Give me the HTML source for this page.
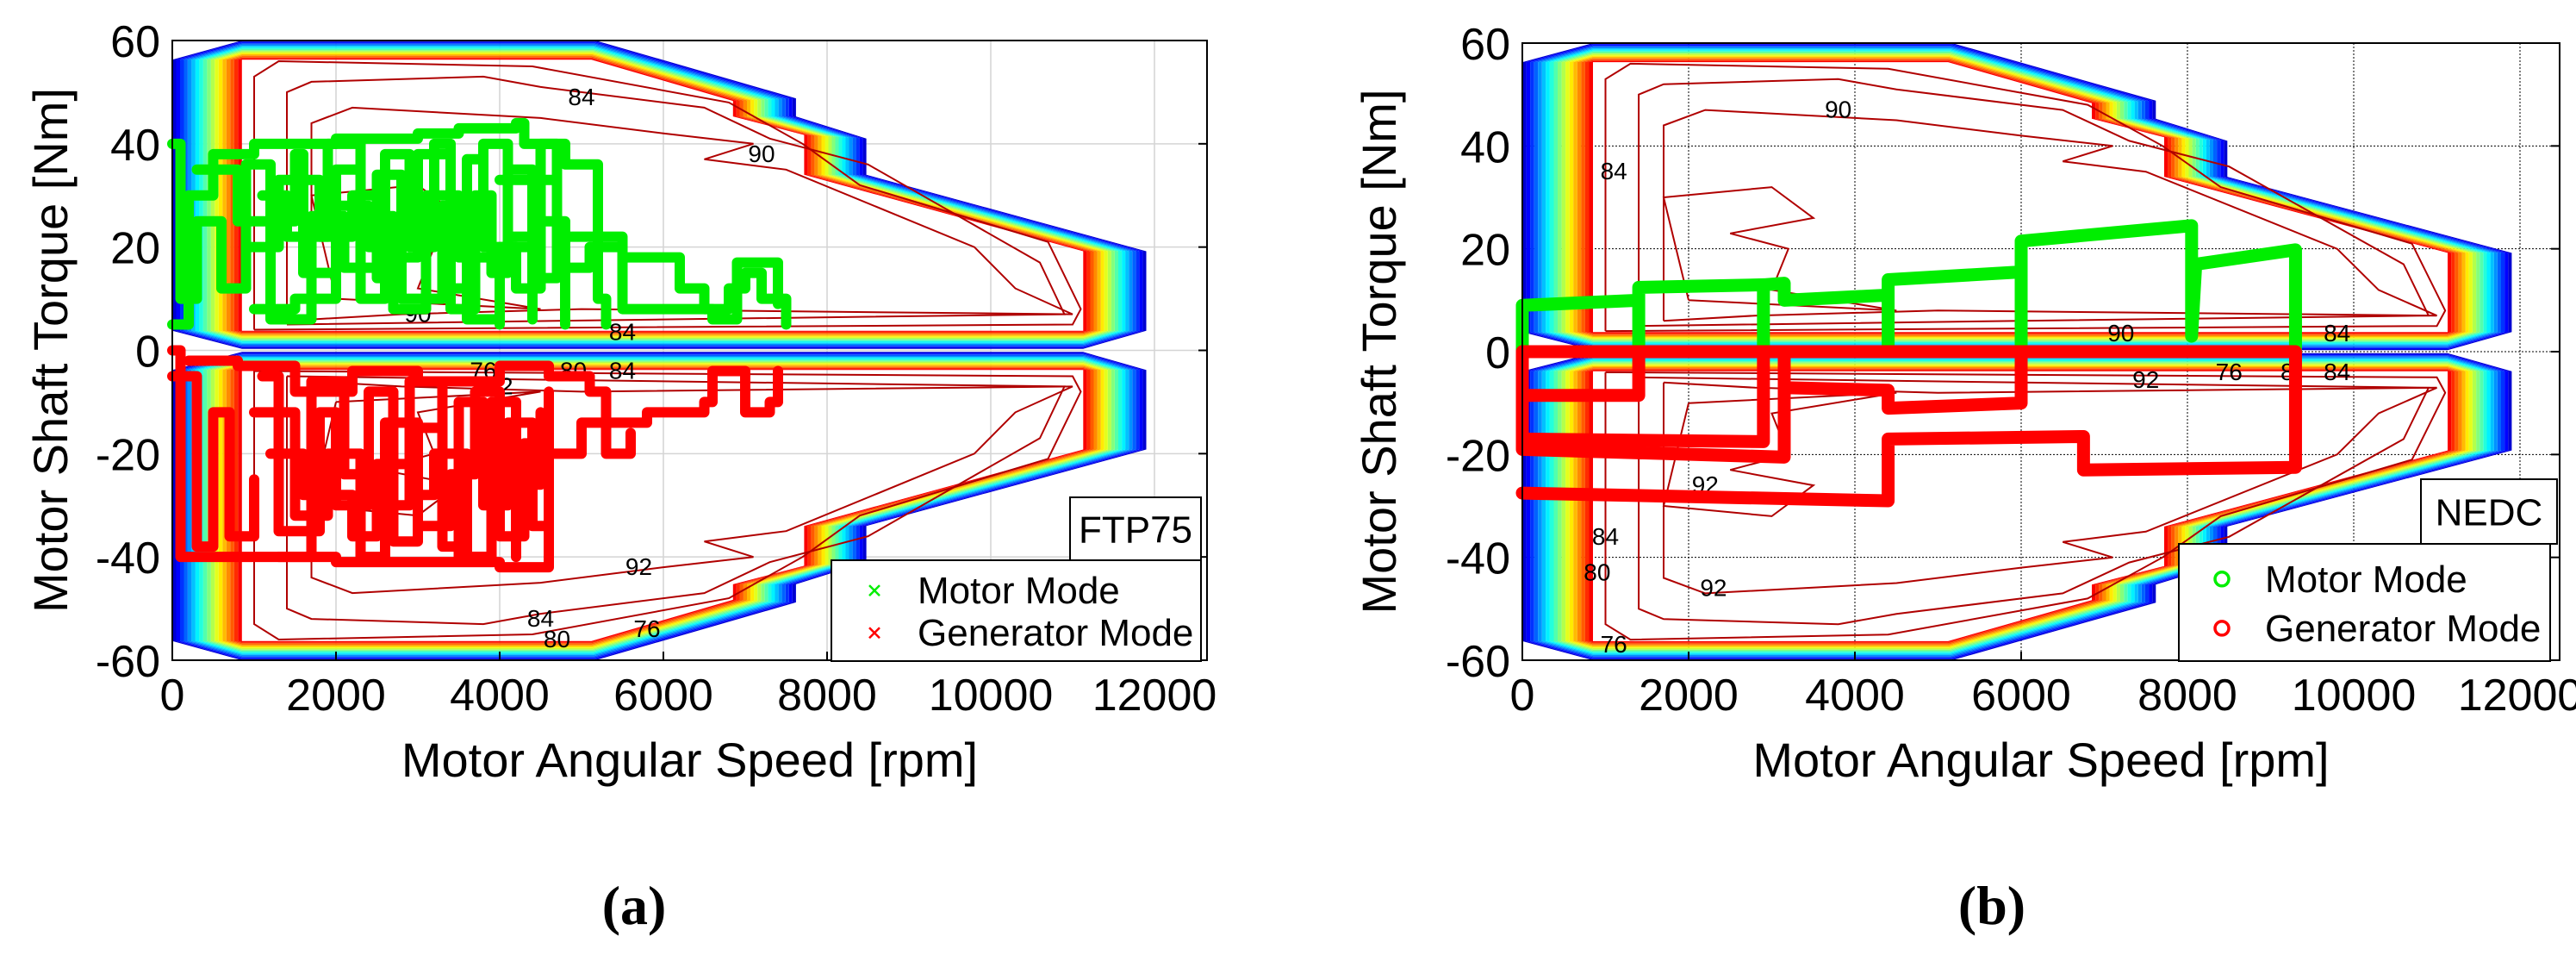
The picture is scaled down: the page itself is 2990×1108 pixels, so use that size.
<!DOCTYPE html>
<html><head><meta charset="utf-8"><style>
html,body{margin:0;padding:0;background:#fff;}
svg{display:block;}
text{font-family:"Liberation Sans",Arial,sans-serif;}
</style></head><body>
<svg id="fig" width="2990" height="1108" viewBox="0 0 2990 1108" xmlns="http://www.w3.org/2000/svg">
<text x="736" y="1072" font-weight="bold" font-size="64" text-anchor="middle" style="font-family:'Liberation Serif',serif">(a)</text>
<text x="2312" y="1072" font-weight="bold" font-size="64" text-anchor="middle" style="font-family:'Liberation Serif',serif">(b)</text>
</svg>
<script>
// ---- data ----
const xTicks = [0,2000,4000,6000,8000,10000,12000];
const yTicks = [60,40,20,0,-20,-40,-60];
// efficiency-map envelope (upper half), outer and inner boundaries [rpm, Nm]
const envOuter = [[0,56.3],[850,60],[5170,60],[7620,48.8],[7620,45.3],[8480,41],[8480,34],[11900,19.2],[11900,3.8],[11130,0.3],[850,0.3],[0,3.8]];
const envInner = [[850,56.3],[850,56.3],[5120,56.3],[6850,48.3],[6850,45.3],[7720,41.7],[7720,34],[11130,19.2],[11130,3.8],[11130,3.8],[850,3.8],[850,3.8]];
// contour loops (upper half)
const contourA = [[1000,4],[1000,53],[1300,56],[4400,55],[6800,48],[7700,40],[8400,32],[10700,21],[11100,8],[11000,5],[1000,4]];
const contourB = [[1400,5],[1400,50],[1700,52],[3800,53],[4500,51],[6500,47],[7300,41],[8500,36],[10600,17],[10900,7],[6000,6],[1400,5]];
const contourC = [[1700,6],[1700,44],[2200,47],[4500,45],[6000,42],[7100,40],[6500,37],[7500,35],[9800,20],[10300,12],[11000,7],[5000,8],[2800,7],[1700,6]];
const contourD = [[2000,10],[1700,30],[3000,32],[3500,26],[2500,23],[3200,20],[3000,12],[4500,8],[2000,10]];
const labelsA = [[5000,49,'84'],[7200,38,'90'],[3000,7,'90'],[5500,3.5,'84'],[3800,-4,'76'],[4000,-7,'92'],[4900,-4,'80'],[5500,-4,'84'],[2500,-26,'92'],[5700,-42,'92'],[4500,-52,'84'],[4700,-56,'80'],[5800,-54,'76']];
const labelsB = [[3800,47,'90'],[1100,35,'84'],[7200,3.5,'90'],[9800,3.5,'84'],[7500,-5.5,'92'],[8500,-4,'76'],[9200,-4,'8'],[9800,-4,'84'],[2200,-26,'92'],[1000,-36,'84'],[900,-43,'80'],[2300,-46,'92'],[1100,-57,'76']];
// FTP75 operating points
const ftpMotor1 = [[0,5],[200,30],[500,38],[1000,40],[2000,41],[3000,42],[3500,43],[4200,44],[4300,40],[4800,36],[5200,28],[5200,10],[5300,5]];
const ftpMotor2 = [[300,35],[800,25],[1500,38],[1600,15],[2000,35],[2300,10],[2600,38],[2900,20],[3200,40],[3400,8],[3700,30],[3900,15],[4100,35],[4400,6]];
const ftpMotor3 = [[4000,33],[4600,33],[4700,22],[5300,22],[5500,18],[6000,18],[6200,12],[6500,8],[6800,12],[7000,15],[7200,10],[7500,5]];
const ftpMotor4 = [[900,20],[1300,33],[1800,22],[2200,30],[2500,14],[2800,33],[3000,25],[3300,12],[3600,37],[3800,20],[4200,12],[4500,25],[4800,5]];
const ftpMotor5 = [[1000,8],[1500,10],[2000,28],[2400,20],[2700,8],[3100,30],[3500,18],[4000,5]];
const ftpMotor6 = [[0,40],[100,10],[300,25],[600,12],[900,36],[1200,6],[1700,26],[2100,16],[2500,34],[2800,10],[3300,28],[3600,6],[4000,20],[4400,14],[4700,30]];
const ftpMotor7 = [[1100,30],[1400,22],[1900,40],[2300,26],[2700,18],[3000,38],[3400,24],[3800,40],[4100,22],[4500,40],[4700,16],[5100,20],[5500,8],[6600,6],[6900,17],[7400,9]];
const ftpGen1 = [[0,0],[100,-40],[1000,-40],[2000,-41],[3000,-41],[4000,-42],[4600,-40],[4600,-20],[5000,-14],[5500,-14],[5800,-12],[6500,-10],[6600,-4],[7000,-12],[7300,-10],[7400,-4]];
const ftpGen2 = [[1100,-5],[1300,-35],[1800,-12],[2000,-30],[2400,-8],[2700,-37],[3000,-15],[3300,-38],[3500,-10],[3800,-30],[4100,-14],[4400,-34],[4600,-8]];
const ftpGen3 = [[1200,-20],[1600,-28],[2200,-36],[2500,-22],[2900,-28],[3200,-20],[3600,-40],[3900,-22],[4200,-40]];
const ftpGen4 = [[200,-2],[800,-3],[1500,-8],[2200,-4],[3000,-6],[4000,-3],[4600,-5],[5100,-8],[5300,-20],[5600,-16]];
const ftpGen5 = [[0,-5],[300,-38],[500,-12],[700,-36],[1000,-25]];
const ftpGen6 = [[1000,-12],[1500,-32],[1900,-20],[2300,-40],[2600,-14],[3000,-34],[3400,-24],[3700,-8],[4000,-36],[4300,-18],[4600,-28]];
const ftpGen7 = [[1300,-40],[1700,-6],[2100,-24],[2600,-30],[2900,-6],[3300,-28],[3500,-40],[3900,-10],[4200,-26],[4500,-12]];
// NEDC operating points
const nedcMotor = [[0,0],[0,9],[1400,10],[1400,0],[1400,12.5],[2900,13],[2900,0],[2900,13],[3150,13.3],[3150,10],[4400,11],[4400,0],[4400,14],[6000,15.5],[6000,0],[6000,21.5],[8050,24.5],[8050,3],[8100,17],[9300,19.8],[9300,0]];
const nedcGen1 = [[0,0],[9300,0],[9300,-22.5],[6750,-23],[6750,-16.5],[4400,-17],[4400,-29],[0,-27.5]];
const nedcGen2 = [[0,0],[0,-19],[3150,-20.5],[3150,0]];
const nedcGen3 = [[0,-8.5],[1400,-8.5],[1400,0]];
const nedcGen4 = [[2900,0],[2900,-17.5],[0,-17]];
const nedcGen5 = [[3150,-7],[4400,-7.5],[4400,-11],[6000,-10],[6000,0]];

const NS='http://www.w3.org/2000/svg';
const fig=document.getElementById('fig');
function mk(tag,attrs,parent){const e=document.createElementNS(NS,tag);for(const k in attrs)e.setAttribute(k,attrs[k]);(parent||fig).appendChild(e);return e;}
function jet(t){ // t=0 blue .. 1 red
  const r=Math.max(0,Math.min(1,1.5-Math.abs(4*t-3))),g=Math.max(0,Math.min(1,1.5-Math.abs(4*t-2))),b=Math.max(0,Math.min(1,1.5-Math.abs(4*t-1)));
  return 'rgb('+Math.round(r*255)+','+Math.round(g*255)+','+Math.round(b*255)+')';}

function plot(cfg){
  const sx=v=>cfg.x0+v*cfg.kx, sy=v=>cfg.y0+(60-v)*(cfg.y1-cfg.y0)/120;
  const g=mk('g',{});
  
  
  xTicks.slice(1).forEach(t=>{const l=mk('line',{x1:sx(t),x2:sx(t),y1:cfg.y0,y2:cfg.y1,stroke:cfg.gridColor,'stroke-width':cfg.gridW,'stroke-dasharray':cfg.gridDash},g);
    
    });
  yTicks.slice(1,-1).forEach(t=>{const l=mk('line',{x1:cfg.x0,x2:cfg.x1,y1:sy(t),y2:sy(t),stroke:cfg.gridColor,'stroke-width':cfg.gridW,'stroke-dasharray':cfg.gridDash},g);
    
    });
  const n=18;
  const ring=(k,sgn)=>envOuter.map((o,i)=>[o[0]+(envInner[i][0]-o[0])*k/n,sgn*(o[1]+(envInner[i][1]-o[1])*k/n)]);
  const pstr=pts=>'M'+pts.map(p=>sx(p[0]).toFixed(1)+','+sy(p[1]).toFixed(1)).join('L')+'Z';
  [1,-1].forEach(sgn=>{
    for(let k=0;k<n;k++){
      const p=mk('path',{d:pstr(ring(k,sgn))+pstr(ring(k+1,sgn)),fill:jet(0.08+0.8*k/(n-1)),'fill-rule':'evenodd'},g);
      
      
    }
    [contourA,contourB,contourC,contourD].forEach(c=>{
      const p=mk('path',{d:'M'+c.map(q=>sx(q[0]).toFixed(1)+','+sy(sgn*q[1]).toFixed(1)).join('L'),fill:'none',stroke:'#b00000','stroke-width':2},g);
      
      
    });
  });
  cfg.labels.forEach(l=>{const t=mk('text',{x:sx(l[0]),y:sy(l[1])+9,'font-size':28,'text-anchor':'middle',fill:'#000'},g);t.textContent=l[2];
    
    });
  cfg.series.forEach(s=>{
    let d='';
    s.pts.forEach((q,i)=>{
      if(i===0){d+='M'+sx(q[0])+','+sy(q[1]);}
      else if(s.step){d+='H'+sx(q[0])+'V'+sy(q[1]);}
      else d+='L'+sx(q[0])+','+sy(q[1]);
    });
    const p=mk('path',{d:d,fill:'none',stroke:s.color,'stroke-width':s.w,'stroke-linejoin':'round','stroke-linecap':'round'},g);
    
    
  });
  const fr=mk('rect',{x:cfg.x0,y:cfg.y0,width:cfg.x1-cfg.x0,height:cfg.y1-cfg.y0,fill:'none',stroke:'#000','stroke-width':2},g);
  
  
  xTicks.forEach(t=>{const tx=mk('text',{x:sx(t),y:cfg.y1+58,'font-size':52,'text-anchor':'middle'},g);tx.textContent=t;
    
    
    const tk=mk('line',{x1:sx(t),x2:sx(t),y1:cfg.y1,y2:cfg.y1-10,stroke:'#000','stroke-width':2},g);
    
    });
  yTicks.forEach(t=>{const tx=mk('text',{x:cfg.x0-14,y:sy(t)+19,'font-size':52,'text-anchor':'end'},g);tx.textContent=t;
    
    
    const tk=mk('line',{x1:cfg.x1,x2:cfg.x1-10,y1:sy(t),y2:sy(t),stroke:'#000','stroke-width':2},g);
    
    });
  const xl=mk('text',{x:(cfg.x0+cfg.x1)/2,y:cfg.y1+135,'font-size':56,'text-anchor':'middle'},g);xl.textContent='Motor Angular Speed [rpm]';
  
  
  const yl=mk('text',{x:0,y:0,'font-size':56,'text-anchor':'middle',transform:'translate('+cfg.ylx+','+((cfg.y0+cfg.y1)/2)+') rotate(-90)'},g);yl.textContent='Motor Shaft Torque [Nm]';
  
  
  const cb=cfg.cycleBox;
  const cr=mk('rect',{x:cb[0],y:cb[1],width:cb[2],height:cb[3],fill:'#fff',stroke:'#000','stroke-width':2},g);
  
  
  const ct=mk('text',{x:cb[0]+cb[2]/2,y:cb[1]+cb[3]/2+16,'font-size':44,'text-anchor':'middle'},g);ct.textContent=cfg.cycle;
  
  
  const lb=cfg.legend;
  const lr=mk('rect',{x:lb[0],y:lb[1],width:lb[2],height:lb[3],fill:'#fff',stroke:'#000','stroke-width':2},g);
  
  
  [['Motor Mode','#00ee00'],['Generator Mode','#ff0000']].forEach((e,i)=>{
    const cy=lb[1]+lb[3]*(i===0?0.3:0.72);
    const mx=lb[0]+50;
    let m;
    if(cfg.marker==='x'){m=mk('path',{d:'M'+(mx-6)+','+(cy-6)+'L'+(mx+6)+','+(cy+6)+'M'+(mx+6)+','+(cy-6)+'L'+(mx-6)+','+(cy+6),stroke:e[1],'stroke-width':2.5,fill:'none'},g);}
    else{m=mk('circle',{cx:mx,cy:cy,r:8,stroke:e[1],'stroke-width':3.5,fill:'none'},g);}
    
    
    const t=mk('text',{x:lb[0]+100,y:cy+15,'font-size':44},g);t.textContent=e[0];
    
    
  });
}

plot({name:'ftp75-chart',x0:200,x1:1401,y0:47,y1:766,kx:0.095,ylx:78,gridColor:'#d4d4d4',gridW:1.5,gridDash:'none',
  labels:labelsA,cycle:'FTP75',cycleBox:[1242,577,152,73],legend:[965,650,429,117],marker:'x',
  series:[
    {name:'motor-mode-trace',pts:ftpMotor1,color:'#00ee00',w:12,step:true},
    {name:'motor-mode-trace',pts:ftpMotor2,color:'#00ee00',w:12,step:true},
    {name:'motor-mode-trace',pts:ftpMotor3,color:'#00ee00',w:12,step:true},
    {name:'motor-mode-trace',pts:ftpMotor4,color:'#00ee00',w:12,step:true},
    {name:'motor-mode-trace',pts:ftpMotor5,color:'#00ee00',w:12,step:true},
    {name:'motor-mode-trace',pts:ftpMotor6,color:'#00ee00',w:12,step:true},
    {name:'motor-mode-trace',pts:ftpMotor7,color:'#00ee00',w:12,step:true},
    {name:'generator-mode-trace',pts:ftpGen1,color:'#ff0000',w:12,step:true},
    {name:'generator-mode-trace',pts:ftpGen2,color:'#ff0000',w:12,step:true},
    {name:'generator-mode-trace',pts:ftpGen3,color:'#ff0000',w:12,step:true},
    {name:'generator-mode-trace',pts:ftpGen4,color:'#ff0000',w:12,step:true},
    {name:'generator-mode-trace',pts:ftpGen5,color:'#ff0000',w:12,step:true},
    {name:'generator-mode-trace',pts:ftpGen6,color:'#ff0000',w:12,step:true},
    {name:'generator-mode-trace',pts:ftpGen7,color:'#ff0000',w:12,step:true}
  ]});
plot({name:'nedc-chart',x0:1767,x1:2971,y0:50,y1:766,kx:0.0965,ylx:1620,gridColor:'#000',gridW:1,gridDash:'2,2',
  labels:labelsB,cycle:'NEDC',cycleBox:[2810,556,158,75],legend:[2529,631,431,136],marker:'o',
  series:[
    {name:'motor-mode-trace',pts:nedcMotor,color:'#00ee00',w:15,step:false},
    {name:'generator-mode-trace',pts:nedcGen1,color:'#ff0000',w:15,step:false},
    {name:'generator-mode-trace',pts:nedcGen2,color:'#ff0000',w:15,step:false},
    {name:'generator-mode-trace',pts:nedcGen3,color:'#ff0000',w:15,step:false},
    {name:'generator-mode-trace',pts:nedcGen4,color:'#ff0000',w:15,step:false},
    {name:'generator-mode-trace',pts:nedcGen5,color:'#ff0000',w:15,step:false}
  ]});
</script>
</body></html>
